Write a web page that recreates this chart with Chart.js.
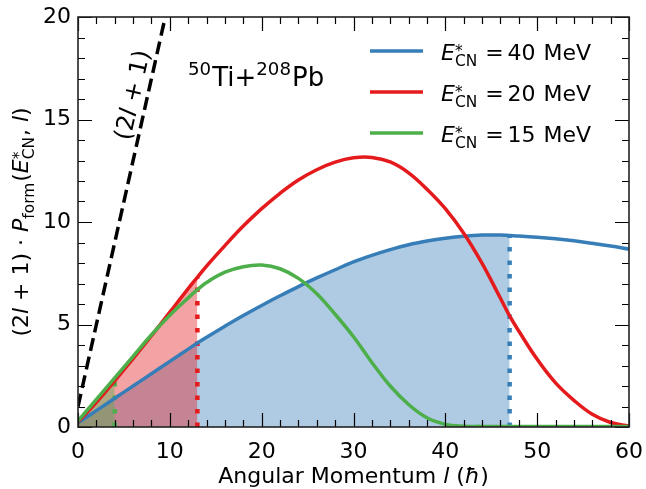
<!DOCTYPE html>
<html>
<head>
<meta charset="utf-8">
<script src="https://cdn.jsdelivr.net/npm/chart.js@4.4.1/dist/chart.umd.min.js"></script>
<style>
  html, body { margin: 0; padding: 0; background: #fff; }
  canvas { display: block; }
</style>
</head>
<body>
<canvas id="chart" width="646" height="489"></canvas>
<script>
// angular momentum l (hbar)
const angMom = [0, 2, 4, 6, 8, 10, 12, 13, 14, 16, 18, 20, 22, 24, 26, 28, 30, 32, 34, 36, 38, 40, 42, 44, 46, 47, 48, 50, 52, 54, 56, 58, 60];
// (2l+1) * P_form for each excitation energy
const e40 = [0.2, 0.8, 1.4, 2.0, 2.6, 3.2, 3.8, 4.1, 4.38, 4.92, 5.44, 5.93, 6.4, 6.85, 7.27, 7.67, 8.05, 8.37, 8.65, 8.89, 9.07, 9.21, 9.31, 9.36, 9.36, 9.34, 9.32, 9.26, 9.18, 9.08, 8.96, 8.83, 8.68];
const e20 = [0.25, 1.2, 2.25, 3.33, 4.45, 5.6, 6.75, 7.3, 7.85, 8.85, 9.8, 10.65, 11.4, 12.05, 12.55, 12.92, 13.13, 13.15, 12.93, 12.4, 11.6, 10.65, 9.45, 7.98, 6.28, 5.42, 4.68, 3.3, 2.15, 1.3, 0.62, 0.22, 0.05];
const e15 = [0.3, 1.35, 2.4, 3.45, 4.5, 5.45, 6.3, 6.7, 7.05, 7.55, 7.82, 7.9, 7.72, 7.25, 6.5, 5.5, 4.4, 3.15, 2.0, 1.1, 0.45, 0.13, 0.04, 0.03, 0.02, 0.02, 0.02, 0.02, 0.02, 0.02, 0.02, 0.02, 0.02];
const energies = [40, 20, 15];
const cutoffs = [47, 13, 4];
// the (2l+1) reference line
const refL = [0, 10];
const refVal = [1, 21];
const xTickVals = [0, 10, 20, 30, 40, 50, 60];
const yTickVals = [0, 5, 10, 15, 20];
const xMinor = 2;
const yMinor = 1;

const BLUE = '#377eb8', RED = '#e41a1c', GREEN = '#4daf4a';
const FONT = '"DejaVu Sans"';

function pts(vals, maxL) {
    const out = [];
    angMom.forEach(function (l, i) {
        if (maxL === undefined || l <= maxL) out.push({ x: l, y: vals[i] });
    });
    return out;
}
function cutLine(vals, l) {
    return [{ x: l, y: 0 }, { x: l, y: vals[angMom.indexOf(l)] }];
}

const curve = { pointRadius: 0, borderWidth: 3.5, fill: false, tension: 0.4 };
const dots = { pointRadius: 0, borderWidth: 4.5, borderDash: [4.5, 9], borderCapStyle: 'butt', fill: false };
const area = { pointRadius: 0, borderWidth: 0, borderColor: 'transparent', fill: 'origin', tension: 0.4 };

// draw text made of pieces: plain, italic, sub/superscripts, fixed gaps
function drawRich(ctx, parts, x, y, size, align) {
    const f = function (it, sz) { return (it ? 'italic ' : '') + sz + 'px ' + FONT; };
    const small = size * 0.7;
    const widths = parts.map(function (p) {
        if (p.gap !== undefined) return p.gap;
        if (p.sup !== undefined || p.sub !== undefined) {
            ctx.font = f(false, small);
            return Math.max(p.sup ? ctx.measureText(p.sup).width : 0, p.sub ? ctx.measureText(p.sub).width : 0) + 1;
        }
        ctx.font = f(p.i, size);
        return ctx.measureText(p.t).width;
    });
    const total = widths.reduce(function (a, b) { return a + b; }, 0);
    let cx = align === 'center' ? x - total / 2 : x;
    ctx.textBaseline = 'alphabetic';
    ctx.textAlign = 'left';
    parts.forEach(function (p, i) {
        if (p.gap !== undefined) {
            // spacing only
        } else if (p.sup !== undefined || p.sub !== undefined) {
            ctx.font = f(false, small);
            if (p.sup) ctx.fillText(p.sup, cx, y - size * (p.supOff || 0.42));
            if (p.sub) ctx.fillText(p.sub, cx, y + size * 0.28);
        } else {
            ctx.font = f(p.i, size);
            ctx.fillText(p.t, cx, y);
        }
        cx += widths[i];
    });
}

const ecn = [{ t: 'E', i: true }, { sup: '*', sub: 'CN', supOff: 0.2 }];

const decorations = {
    id: 'decorations',
    afterDraw: function (chart) {
        const ctx = chart.ctx;
        const a = chart.chartArea;
        const xs = chart.scales.x, ys = chart.scales.y;
        ctx.save();
        ctx.fillStyle = '#000';
        ctx.strokeStyle = '#000';

        // ticks pointing inward on all four sides
        ctx.lineWidth = 1.2;
        ctx.beginPath();
        for (let v = xs.min; v <= xs.max + 1e-9; v += xMinor) {
            const px = Math.round(xs.getPixelForValue(v)) + 0.5;
            const len = xTickVals.indexOf(v) >= 0 ? 14 : 7;
            ctx.moveTo(px, a.bottom); ctx.lineTo(px, a.bottom - len);
            ctx.moveTo(px, a.top); ctx.lineTo(px, a.top + len);
        }
        for (let v = ys.min; v <= ys.max + 1e-9; v += yMinor) {
            const py = Math.round(ys.getPixelForValue(v)) + 0.5;
            const len = yTickVals.indexOf(v) >= 0 ? 14 : 7;
            ctx.moveTo(a.left, py); ctx.lineTo(a.left + len, py);
            ctx.moveTo(a.right, py); ctx.lineTo(a.right - len, py);
        }
        ctx.stroke();
        ctx.lineWidth = 1.6;
        ctx.strokeStyle = '#222';
        ctx.strokeRect(a.left, a.top, a.right - a.left, a.bottom - a.top);

        // axis titles
        drawRich(ctx, [{ t: 'Angular Momentum ' }, { t: 'l', i: true }, { t: ' (' }, { t: 'ħ', i: true }, { t: ')' }],
            (a.left + a.right) / 2, 483, 22, 'center');
        ctx.save();
        ctx.translate(28, (a.top + a.bottom) / 2);
        ctx.rotate(-Math.PI / 2);
        drawRich(ctx, [{ t: '(2' }, { t: 'l', i: true }, { t: ' + 1) · ' }, { t: 'P', i: true }, { sub: 'form' },
            { t: '(' }].concat(ecn, [{ t: ', ' }, { t: 'l', i: true }, { t: ')' }]), 0, 0, 22, 'center');
        ctx.restore();

        // reaction label
        drawRich(ctx, [{ sup: '50' }, { t: 'Ti+' }, { sup: '208' }, { t: 'Pb' }], 188, 86, 26, 'left');

        // label along the (2l+1) line
        const p0x = xs.getPixelForValue(refL[0]), p0y = ys.getPixelForValue(refVal[0]);
        const p1x = xs.getPixelForValue(refL[1]), p1y = ys.getPixelForValue(refVal[1]);
        const ang = Math.atan2(p1y - p0y, p1x - p0x);
        ctx.save();
        ctx.translate(xs.getPixelForValue(5.9), ys.getPixelForValue(16.2));
        ctx.rotate(ang);
        drawRich(ctx, [{ t: '(2' }, { t: 'l', i: true }, { t: ' + 1)' }], 0, 8, 24, 'center');
        ctx.restore();

        // legend
        const cols = [BLUE, RED, GREEN];
        energies.forEach(function (e, i) {
            const ly = 51 + i * 41;
            ctx.strokeStyle = cols[i];
            ctx.lineWidth = 3.5;
            ctx.beginPath();
            ctx.moveTo(370, ly); ctx.lineTo(423, ly);
            ctx.stroke();
            drawRich(ctx, ecn.concat([{ gap: 7 }, { t: '=' }, { gap: 4 }, { t: String(e) }, { gap: 8 }, { t: 'MeV' }]),
                441, ly + 9, 22, 'left');
        });
        ctx.restore();
    }
};

new Chart(document.getElementById('chart'), {
    type: 'line',
    data: {
        datasets: [
            Object.assign({ data: pts(e15), borderColor: GREEN }, curve),
            Object.assign({ data: pts(e20), borderColor: RED }, curve),
            Object.assign({ data: pts(e40), borderColor: BLUE }, curve),
            { data: refL.map(function (l, i) { return { x: l, y: refVal[i] }; }), borderColor: '#000',
              borderWidth: 3.5, borderDash: [13, 6], pointRadius: 0, fill: false },
            Object.assign({ data: cutLine(e15, cutoffs[2]), borderColor: GREEN }, dots),
            Object.assign({ data: cutLine(e20, cutoffs[1]), borderColor: RED }, dots),
            Object.assign({ data: cutLine(e40, cutoffs[0]), borderColor: BLUE }, dots),
            Object.assign({ data: pts(e15, cutoffs[2]), backgroundColor: 'rgba(77,175,74,0.4)' }, area),
            Object.assign({ data: pts(e20, cutoffs[1]), backgroundColor: 'rgba(228,26,28,0.4)' }, area),
            Object.assign({ data: pts(e40, cutoffs[0]), backgroundColor: 'rgba(55,126,184,0.4)' }, area)
        ]
    },
    options: {
        responsive: false,
        animation: false,
        devicePixelRatio: 1,
        layout: { padding: { top: 17, right: 17, left: 0, bottom: 0 } },
        plugins: { legend: { display: false }, tooltip: { enabled: false } },
        scales: {
            x: {
                type: 'linear', min: 0, max: 60,
                grid: { display: false, drawTicks: false },
                border: { display: false },
                afterBuildTicks: function (s) { s.ticks = xTickVals.map(function (v) { return { value: v }; }); },
                afterFit: function (s) { s.height = 62; s.paddingLeft = 0; s.paddingRight = 0; },
                ticks: { color: '#000', padding: 12, font: { family: 'DejaVu Sans', size: 22 } }
            },
            y: {
                type: 'linear', min: 0, max: 20,
                grid: { display: false, drawTicks: false },
                border: { display: false },
                afterBuildTicks: function (s) { s.ticks = yTickVals.map(function (v) { return { value: v }; }); },
                afterFit: function (s) { s.width = 78; s.paddingTop = 0; s.paddingBottom = 0; },
                ticks: { color: '#000', padding: 7, font: { family: 'DejaVu Sans', size: 22 } }
            }
        }
    },
    plugins: [decorations]
});
</script>
</body>
</html>
